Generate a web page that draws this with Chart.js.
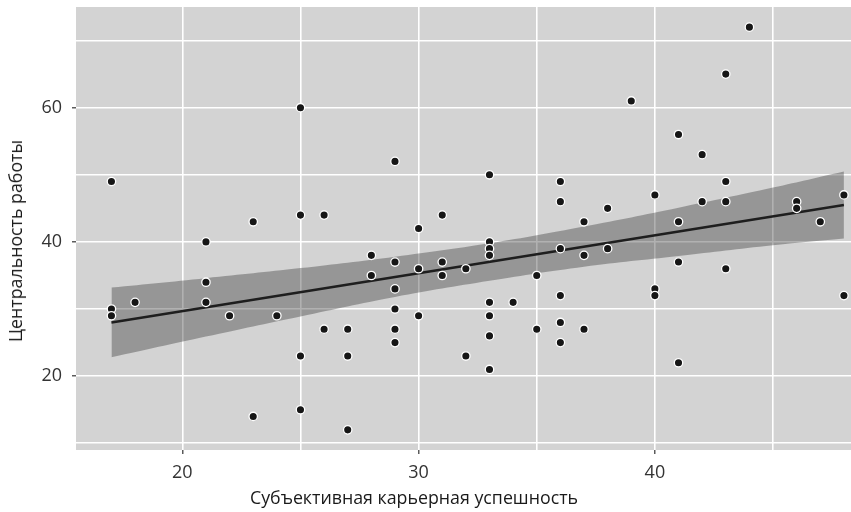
<!DOCTYPE html>
<html>
<head>
<meta charset="utf-8">
<script src="https://cdn.jsdelivr.net/npm/chart.js@4"></script>
<style>
  html, body { margin: 0; padding: 0; background: #fff; overflow: hidden; }
  #wrap { position: relative; width: 851px; height: 512px; }
  .axis-title { position: absolute; font-family: "Open Sans", sans-serif; font-size: 17.8px; color: #1a1a1a; white-space: nowrap; }
  #x-title { left: 414px; top: 497px; transform: translate(-50%, -50%); }
  #y-title { left: 15px; top: 241px; transform: translate(-50%, -50%) rotate(-90deg); }
</style>
</head>
<body>
<div id="wrap">
  <canvas id="scatterChart" width="851" height="512"></canvas>
  <div id="x-title" class="axis-title">Субъективная карьерная успешность</div>
  <div id="y-title" class="axis-title">Центральность работы</div>
</div>
<script>
// observed points: career success (x) vs work centrality (y)
const successX = [
    17, 17, 17, 18, 21, 21, 21, 22, 23, 23, 24, 25, 25, 25, 25, 26, 26, 27, 27, 27,
    28, 28, 29, 29, 29, 29, 29, 29, 30, 30, 30, 31, 31, 31, 32, 32, 33, 33, 33, 33,
    33, 33, 33, 33, 34, 35, 35, 36, 36, 36, 36, 36, 36, 37, 37, 37, 38, 38, 39, 40,
    40, 40, 41, 41, 41, 41, 42, 42, 44, 43, 43, 43, 43, 46, 46, 47, 48, 48
];
const centralityY = [
    49, 30, 29, 31, 40, 34, 31, 29, 43, 14, 29, 60, 44, 23, 15, 44, 27, 27, 23, 12,
    38, 35, 52, 37, 33, 30, 27, 25, 42, 36, 29, 44, 37, 35, 36, 23, 50, 40, 39, 38,
    31, 29, 26, 21, 31, 35, 27, 49, 46, 39, 32, 28, 25, 43, 38, 27, 45, 39, 61, 47,
    33, 32, 56, 43, 37, 22, 53, 46, 72, 65, 49, 46, 36, 46, 45, 43, 47, 32
];

// fitted line and its confidence band
const fitX = [17, 48];
const fitY = [28.0, 45.5];
const bandX = [17, 21, 25, 29, 33, 37, 41, 45, 48];
const bandLow = [22.8, 25.9, 28.9, 31.8, 34.2, 36.3, 37.9, 39.5, 40.5];
const bandHigh = [33.2, 34.6, 36.1, 37.8, 39.8, 42.3, 45.1, 48.1, 50.5];

// gridlines and labelled ticks
const xGrid = [20, 25, 30, 35, 40, 45];
const xLabelled = [20, 30, 40];
const yGrid = [10, 20, 30, 40, 50, 60, 70];
const yLabelled = [20, 40, 60];

const toXY = (xs, ys) => xs.map((x, i) => ({ x: x, y: ys[i] }));

const panelBg = {
    id: "panelBg",
    beforeDraw(chart) {
        const { ctx, chartArea: a } = chart;
        ctx.save();
        ctx.fillStyle = "#d3d3d3";
        ctx.fillRect(a.left, a.top, a.right - a.left, a.bottom - a.top);
        ctx.restore();
    }
};

const tickFont = { family: "'Open Sans', sans-serif", size: 18 };

const ctx = document.getElementById("scatterChart").getContext("2d");

new Chart(ctx, {
    type: "scatter",
    data: {
        datasets: [
            {
                label: "points",
                data: toXY(successX, centralityY),
                backgroundColor: "#161616",
                borderColor: "#ffffff",
                borderWidth: 1.3,
                pointRadius: 4.2
            },
            {
                type: "line",
                label: "fit",
                data: toXY(fitX, fitY),
                borderColor: "#1e1e1e",
                borderWidth: 2.5,
                pointRadius: 0,
                fill: false
            },
            {
                type: "line",
                label: "low",
                data: toXY(bandX, bandLow),
                borderWidth: 0,
                borderColor: "rgba(0,0,0,0)",
                pointRadius: 0,
                tension: 0.4,
                fill: false
            },
            {
                type: "line",
                label: "high",
                data: toXY(bandX, bandHigh),
                borderWidth: 0,
                borderColor: "rgba(0,0,0,0)",
                backgroundColor: "rgba(60,60,60,0.4)",
                pointRadius: 0,
                tension: 0.4,
                fill: "-1"
            }
        ]
    },
    options: {
        responsive: false,
        animation: false,
        layout: {
            autoPadding: false,
            padding: { top: 7, right: 0, left: 0, bottom: 0 }
        },
        plugins: {
            legend: { display: false },
            tooltip: { enabled: false }
        },
        scales: {
            x: {
                type: "linear",
                min: 15.5,
                max: 48.3,
                afterFit: (s) => {
                    s.height = 62;
                    s.paddingLeft = 0;
                    s.paddingRight = 0;
                },
                afterBuildTicks: (s) => { s.ticks = xGrid.map(v => ({ value: v })); },
                border: { display: false },
                grid: {
                    color: "#ffffff",
                    lineWidth: 1.6,
                    tickLength: 4,
                    tickWidth: 1.2,
                    tickColor: (c) => xLabelled.includes(c.tick && c.tick.value) ? "#333333" : "rgba(0,0,0,0)"
                },
                ticks: {
                    color: "#333333",
                    font: tickFont,
                    padding: 8,
                    maxRotation: 0,
                    autoSkip: false,
                    callback: (v) => xLabelled.includes(v) ? String(v) : ""
                }
            },
            y: {
                type: "linear",
                min: 9,
                max: 75,
                afterFit: (s) => {
                    s.width = 76;
                    s.paddingTop = 0;
                    s.paddingBottom = 0;
                },
                afterBuildTicks: (s) => { s.ticks = yGrid.map(v => ({ value: v })); },
                border: { display: false },
                grid: {
                    color: "#ffffff",
                    lineWidth: 1.6,
                    tickLength: 4,
                    tickWidth: 1.2,
                    tickColor: (c) => yLabelled.includes(c.tick && c.tick.value) ? "#333333" : "rgba(0,0,0,0)"
                },
                ticks: {
                    color: "#333333",
                    font: tickFont,
                    padding: 10,
                    autoSkip: false,
                    callback: (v) => yLabelled.includes(v) ? String(v) : ""
                }
            }
        }
    },
    plugins: [panelBg]
});
</script>
</body>
</html>
